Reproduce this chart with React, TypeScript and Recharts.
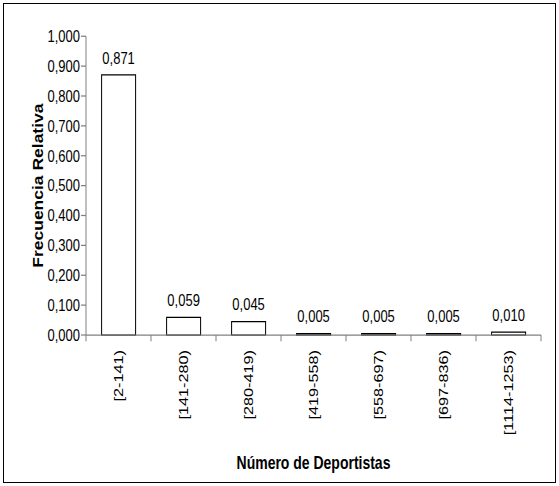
import { BarChart, Bar, XAxis, YAxis, LabelList } from "recharts";

const categories = [
  "[2-141)",
  "[141-280)",
  "[280-419)",
  "[419-558)",
  "[558-697)",
  "[697-836)",
  "[1114-1253)",
];
const frecuencia = [0.871, 0.059, 0.045, 0.005, 0.005, 0.005, 0.01];
const yTicks = [0, 0.1, 0.2, 0.3, 0.4, 0.5, 0.6, 0.7, 0.8, 0.9, 1.0];

const chartData = categories.map((c, i) => ({ rango: c, frecuencia: frecuencia[i] }));

const FONT = "'Liberation Sans', Arial, sans-serif";
const AXIS = "#808080";
// the source picture is stretched vertically, so draw short and scale up
const STRETCH = 1.25;
const W = 559;
const H = 486;

const fmt = (v: number) => v.toFixed(3).replace(".", ",");

// Excel style: labels rotated, tick marks on the category boundaries
function CategoryTick(props: any) {
  const { x, y, payload, index } = props;
  const half = payload.offset || 32.5;
  return (
    <g>
      <line x1={x - half} y1={y - 8} x2={x - half} y2={y - 3} stroke={AXIS} />
      {index === categories.length - 1 && (
        <line x1={x + half} y1={y - 8} x2={x + half} y2={y - 3} stroke={AXIS} />
      )}
      <text
        x={x}
        y={y + 4}
        transform={`rotate(-90, ${x}, ${y + 4})`}
        textAnchor="end"
        dy="0.35em"
        fontSize={13}
        fontFamily={FONT}
        fill="#000"
      >
        {payload.value}
      </text>
    </g>
  );
}

export default function App() {
  return (
    <div style={{ position: "absolute", left: 0, top: 0, width: W, height: H, background: "#fff" }}>
      <div
        style={{
          position: "absolute",
          left: 3,
          top: 3,
          width: 553,
          height: 480,
          border: "1px solid #000",
          boxSizing: "border-box",
        }}
      />
      <div
        style={{
          position: "absolute",
          left: 0,
          top: 0,
          transform: `scaleY(${STRETCH})`,
          transformOrigin: "0 0",
        }}
      >
        <BarChart
          width={W}
          height={Math.round(H / STRETCH)}
          data={chartData}
          margin={{ top: 29, right: 18, left: 0, bottom: 9 }}
          barCategoryGap="24%"
        >
          <XAxis
            dataKey="rango"
            height={112}
            interval={0}
            stroke={AXIS}
            tickLine={false}
            tick={<CategoryTick />}
            label={{
              value: "Número de Deportistas",
              position: "insideBottom",
              offset: 5,
              fontSize: 14,
              fontWeight: "bold",
              fontFamily: FONT,
              fill: "#000",
            }}
          />
          <YAxis
            width={86}
            domain={[0, 1]}
            ticks={yTicks}
            tickFormatter={fmt}
            stroke={AXIS}
            tickSize={5}
            tickMargin={1}
            tick={{ fontSize: 13, fontFamily: FONT, fill: "#000" }}
            label={{
              value: "Frecuencia Relativa",
              angle: -90,
              position: "center",
              dx: -5,
              fontSize: 14,
              fontWeight: "bold",
              fontFamily: FONT,
              fill: "#000",
            }}
          />
          <Bar dataKey="frecuencia" fill="#fff" stroke="#000" strokeWidth={1} isAnimationActive={false}>
            <LabelList
              dataKey="frecuencia"
              position="top"
              offset={9}
              formatter={(v: any) => fmt(Number(v))}
              style={{ fontSize: 13, fontFamily: FONT, fill: "#000" }}
            />
          </Bar>
        </BarChart>
      </div>
    </div>
  );
}
